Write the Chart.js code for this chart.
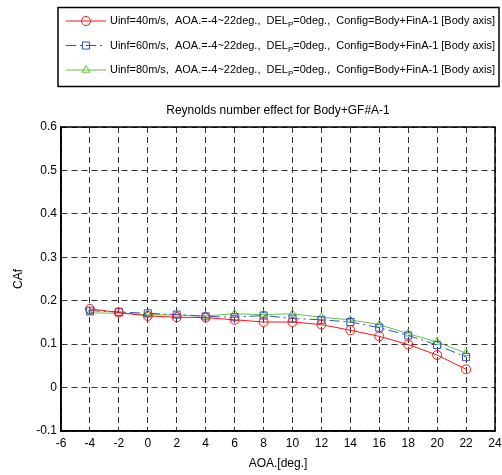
<!DOCTYPE html>
<html>
<head>
<meta charset="utf-8">
<script src="https://cdn.jsdelivr.net/npm/chart.js@4.4.1/dist/chart.umd.min.js"></script>
<style>
  html, body { margin: 0; padding: 0; background: #fff; }
  #wrap { width: 502px; height: 475px; }
</style>
</head>
<body>
<div id="wrap"><canvas id="chart" width="502" height="475"></canvas></div>
<script>
// angle of attack, deg
const aoa = [-4, -2, 0, 2, 4, 6, 8, 10, 12, 14, 16, 18, 20, 22];
// axial force coefficient for each free stream speed
const caf40 = [0.181, 0.173, 0.165, 0.162, 0.161, 0.156, 0.151, 0.151, 0.145, 0.132, 0.118, 0.099, 0.075, 0.042];
const caf60 = [0.177, 0.174, 0.171, 0.168, 0.164, 0.162, 0.166, 0.159, 0.156, 0.151, 0.138, 0.120, 0.098, 0.070];
const caf80 = [0.172, 0.171, 0.168, 0.167, 0.165, 0.170, 0.168, 0.170, 0.162, 0.156, 0.145, 0.124, 0.105, 0.079];
const speeds = ['40', '60', '80'];

const xTicks = [-6, 24, 2];
const yTicks = [-0.1, 0.6, 0.1];

const titleText = 'Reynolds number effect for Body+GF#A-1';
const xTitle = 'AOA.[deg.]';
const yTitle = 'CAf';

const FONT = '"Liberation Sans", Arial, sans-serif';

const red = 'rgb(255,20,20)';
const blue = 'rgb(50,80,200)';
const green = 'rgb(100,195,70)';

function toPts(ys) {
  return aoa.map((a, i) => ({x: a, y: ys[i]}));
}

const seriesStyle = [
  {color: red, marker: 'circle', radius: 4.5, dash: []},
  {color: blue, marker: 'rect', radius: 5, dash: [10, 4, 2, 4]},
  {color: green, marker: 'triangle', radius: 4.5, dash: []}
];

const datasets = [caf40, caf60, caf80].map((d, i) => ({
  label: 'Uinf=' + speeds[i] + 'm/s',
  data: toPts(d),
  borderColor: seriesStyle[i].color,
  backgroundColor: 'rgba(0,0,0,0)',
  borderWidth: 1,
  borderDash: seriesStyle[i].dash,
  pointStyle: seriesStyle[i].marker,
  pointRadius: seriesStyle[i].radius,
  pointBorderColor: seriesStyle[i].color,
  pointBackgroundColor: 'rgba(0,0,0,0)',
  pointBorderWidth: 1,
  tension: 0
}));

// legend box, plot frame and the texts around the axes
const decor = {
  id: 'decor',
  afterDraw(chart) {
    const ctx = chart.ctx;
    const a = chart.chartArea;
    ctx.save();

    // frame
    ctx.strokeStyle = '#000';
    ctx.lineWidth = 1.5;
    ctx.strokeRect(a.left, a.top, a.right - a.left, a.bottom - a.top);

    // titles
    ctx.fillStyle = '#000';
    ctx.font = '12px ' + FONT;
    ctx.textAlign = 'center';
    ctx.textBaseline = 'middle';
    ctx.fillText(titleText, (a.left + a.right) / 2, 111);
    ctx.fillText(xTitle, (a.left + a.right) / 2, 464);
    ctx.save();
    ctx.translate(19, (a.top + a.bottom) / 2);
    ctx.rotate(-Math.PI / 2);
    ctx.fillText(yTitle, 0, 0);
    ctx.restore();

    // legend
    ctx.lineWidth = 1.5;
    ctx.strokeStyle = '#000';
    ctx.strokeRect(58, 7.5, 441, 79);
    const rows = [21, 45.5, 70];
    const partA = s => 'Uinf=' + s + 'm/s,  AOA.=-4~22deg.,  DEL';
    const partB = '=0deg.,  Config=Body+FinA-1 [Body axis]';
    rows.forEach((y, i) => {
      const st = seriesStyle[i];
      ctx.strokeStyle = st.color;
      ctx.lineWidth = 1;
      ctx.setLineDash(st.dash);
      ctx.beginPath();
      ctx.moveTo(66, y);
      ctx.lineTo(106, y);
      ctx.stroke();
      ctx.setLineDash([]);
      drawMarker(ctx, st.marker, 86, y, st.radius, st.color);

      // squeeze the entry so it runs from x=110 to x=495
      ctx.font = '11px ' + FONT;
      const w1 = ctx.measureText(partA(speeds[i])).width;
      const w3 = ctx.measureText(partB).width;
      ctx.font = '8px ' + FONT;
      const w2 = ctx.measureText('P').width;
      const k = Math.min(1, 385 / (w1 + w2 + w3));

      ctx.save();
      ctx.translate(110, y);
      ctx.scale(k, 1);
      ctx.fillStyle = '#000';
      ctx.textAlign = 'left';
      ctx.textBaseline = 'middle';
      ctx.font = '11px ' + FONT;
      ctx.fillText(partA(speeds[i]), 0, 0);
      ctx.font = '8px ' + FONT;
      ctx.fillText('P', w1, 4);
      ctx.font = '11px ' + FONT;
      ctx.fillText(partB, w1 + w2, 0);
      ctx.restore();
    });
    ctx.restore();
  }
};

function drawMarker(ctx, style, x, y, r, color) {
  ctx.save();
  ctx.strokeStyle = color;
  ctx.lineWidth = 1;
  ctx.beginPath();
  if (style === 'circle') {
    ctx.arc(x, y, r, 0, Math.PI * 2);
  } else if (style === 'rect') {
    const s = r * Math.SQRT1_2;
    ctx.rect(x - s, y - s, 2 * s, 2 * s);
  } else {
    ctx.moveTo(x, y - r);
    ctx.lineTo(x + r * 0.87, y + r * 0.5);
    ctx.lineTo(x - r * 0.87, y + r * 0.5);
    ctx.closePath();
  }
  ctx.stroke();
  ctx.restore();
}

const gridDash = [6, 4];

new Chart(document.getElementById('chart').getContext('2d'), {
  type: 'line',
  data: {datasets: datasets},
  options: {
    responsive: false,
    animation: false,
    layout: {padding: {top: 127, right: 7, left: 0, bottom: 0}},
    plugins: {
      legend: {display: false},
      title: {display: false},
      tooltip: {enabled: false}
    },
    scales: {
      x: {
        type: 'linear',
        min: xTicks[0],
        max: xTicks[1],
        afterFit(s) {
          s.height = 44;
          s.paddingLeft = 0;
          s.paddingRight = 0;
        },
        ticks: {
          stepSize: xTicks[2],
          color: '#000',
          padding: 5,
          maxRotation: 0,
          font: {family: FONT, size: 12}
        },
        grid: {color: '#333', lineWidth: 1, drawTicks: false},
        border: {display: true, color: '#000', width: 1.5, dash: gridDash}
      },
      y: {
        type: 'linear',
        min: yTicks[0],
        max: yTicks[1],
        afterFit(s) {
          s.width = 61;
          s.paddingTop = 0;
          s.paddingBottom = 0;
        },
        ticks: {
          stepSize: yTicks[2],
          color: '#000',
          padding: 4,
          font: {family: FONT, size: 12},
          callback: v => Math.round(v * 10) / 10
        },
        grid: {color: '#333', lineWidth: 1, drawTicks: false},
        border: {display: true, color: '#000', width: 1.5, dash: gridDash}
      }
    }
  },
  plugins: [decor]
});
</script>
</body>
</html>
